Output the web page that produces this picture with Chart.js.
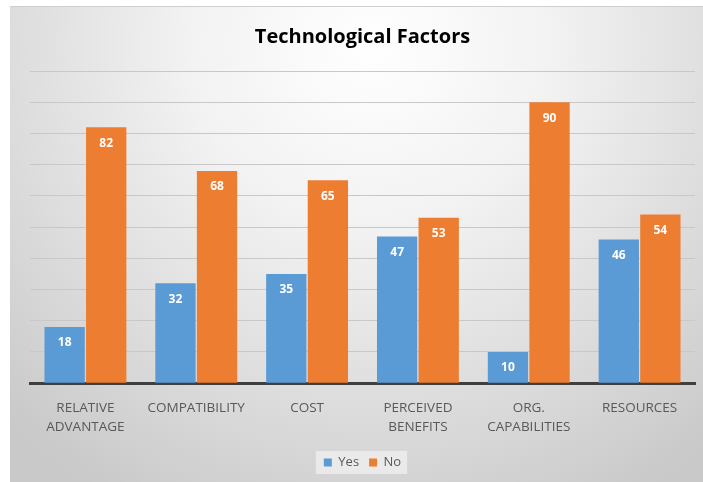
<!DOCTYPE html>
<html>
<head>
<meta charset="utf-8">
<script src="https://cdn.jsdelivr.net/npm/chart.js@4/dist/chart.umd.min.js"></script>
<style>
  html, body { margin: 0; padding: 0; background: #ffffff; }
  #frame {
    position: absolute; left: 10px; top: 6px; width: 693px; height: 476px;
    background: radial-gradient(ellipse 75% 110% at 52% 8%, #ffffff 0%, #f2f2f2 35%, #dcdcdc 70%, #c9c9c9 100%);
    border-top: 1px solid #cfcfcf;
    box-sizing: border-box;
  }
  #chart { display: block; }
</style>
</head>
<body>
<div id="frame"><canvas id="chart" width="693" height="475"></canvas></div>
<script>
const categories = [
  ['RELATIVE', 'ADVANTAGE'],
  'COMPATIBILITY',
  'COST',
  ['PERCEIVED', 'BENEFITS'],
  ['ORG.', 'CAPABILITIES'],
  'RESOURCES'
];
const yesValues = [18, 32, 35, 47, 10, 46];
const noValues = [82, 68, 65, 53, 90, 54];
const seriesNames = ['Yes', 'No'];

const FONT = "'Open Sans', 'Noto Sans', sans-serif";

// White value labels just inside the top of each bar
const barValueLabels = {
  id: 'barValueLabels',
  afterDatasetsDraw(chart) {
    const ctx = chart.ctx;
    ctx.save();
    ctx.fillStyle = '#ffffff';
    ctx.font = 'bold 12px ' + FONT;
    ctx.textAlign = 'center';
    ctx.textBaseline = 'middle';
    chart.data.datasets.forEach((ds, i) => {
      chart.getDatasetMeta(i).data.forEach((bar, j) => {
        ctx.fillText(String(ds.data[j]), bar.x, bar.y + 16);
      });
    });
    ctx.restore();
  }
};

// Soft panel behind the legend
const legendPanel = {
  id: 'legendPanel',
  beforeDraw(chart) {
    const lg = chart.legend;
    if (!lg || !lg.legendHitBoxes || !lg.legendHitBoxes.length) return;
    const boxes = lg.legendHitBoxes;
    const x0 = boxes[0].left - 8;
    const x1 = boxes[boxes.length - 1].left + boxes[boxes.length - 1].width + 6;
    const y0 = boxes[0].top - 5;
    const h = boxes[0].height + 10;
    const ctx = chart.ctx;
    ctx.save();
    ctx.fillStyle = 'rgba(240,240,240,0.75)';
    ctx.fillRect(x0, y0, x1 - x0, h);
    ctx.restore();
  }
};

new Chart(document.getElementById('chart'), {
  type: 'bar',
  data: {
    labels: categories,
    datasets: [
      { label: seriesNames[0], data: yesValues, backgroundColor: '#5B9BD5' },
      { label: seriesNames[1], data: noValues, backgroundColor: '#ED7D31' }
    ]
  },
  options: {
    responsive: false,
    animation: false,
    devicePixelRatio: 1,
    layout: { padding: { left: 20, right: 8, top: 0, bottom: 3 } },
    datasets: { bar: { categoryPercentage: 0.75, barPercentage: 0.97 } },
    scales: {
      x: {
        grid: { display: false },
        border: { display: true, color: '#3f3f3f', width: 3 },
        ticks: { color: '#595959', font: { family: FONT, size: 13.5, lineHeight: 1.4 }, padding: 8, maxRotation: 0 },
        afterFit(scale) { scale.height += 1; }
      },
      y: {
        min: 0, max: 100,
        ticks: { stepSize: 10, display: false },
        border: { display: false },
        grid: { color: '#c8c8c8', lineWidth: 1, drawTicks: false },
        afterFit(scale) { scale.width = 0; }
      }
    },
    plugins: {
      title: {
        display: true,
        text: 'Technological Factors',
        color: '#000000',
        font: { family: FONT, size: 20, weight: 'bold' },
        padding: { top: 18, bottom: 22 }
      },
      legend: {
        position: 'bottom',
        labels: {
          color: '#595959',
          font: { family: FONT, size: 13 },
          boxWidth: 8, boxHeight: 8,
          padding: 10
        }
      },
      tooltip: { enabled: false }
    }
  },
  plugins: [legendPanel, barValueLabels]
});
</script>
</body>
</html>
